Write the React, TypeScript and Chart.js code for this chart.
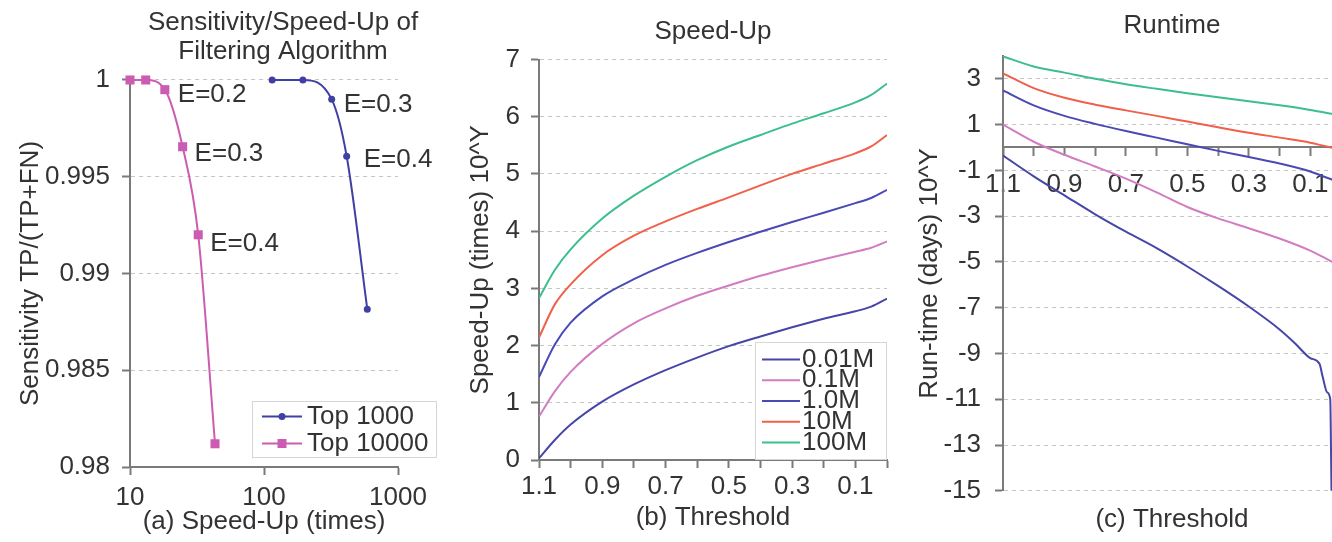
import React, { useEffect, useRef } from 'react';
import { Chart, registerables } from 'chart.js';

Chart.register(...registerables);

// ---------------- (a) Sensitivity / Speed-Up ----------------
const speedTop1000 = [115, 195, 320, 414, 590];
const sensTop1000 = [1.0, 1.0, 0.999, 0.99606, 0.98815];
const speedTop10000 = [10, 13.1, 18.2, 24.7, 32.3, 43.1];
const sensTop10000 = [1.0, 1.0, 0.9995, 0.99655, 0.992, 0.9812];
const speedTicks = [10, 100, 1000];
const sensTicks = [0.98, 0.985, 0.99, 0.995, 1];
const labelsTop1000 = [
  { point: 2, text: 'E=0.3' },
  { point: 3, text: 'E=0.4' },
];
const labelsTop10000 = [
  { point: 2, text: 'E=0.2' },
  { point: 3, text: 'E=0.3' },
  { point: 4, text: 'E=0.4' },
];

// ---------------- (b) Speed-Up ----------------
const thresholdsB = [1.1, 1.05, 1.0, 0.9, 0.8, 0.7, 0.6, 0.5, 0.4, 0.3, 0.2, 0.1, 0.05, 0.0];
const speedup001M = [0.03, 0.35, 0.62, 1.02, 1.32, 1.57, 1.79, 1.99, 2.16, 2.32, 2.47, 2.6, 2.68, 2.82];
const speedup01M = [0.76, 1.2, 1.54, 2.03, 2.39, 2.65, 2.87, 3.05, 3.22, 3.37, 3.51, 3.64, 3.71, 3.82];
const speedup1M = [1.45, 2.02, 2.4, 2.86, 3.16, 3.41, 3.62, 3.81, 3.99, 4.16, 4.32, 4.49, 4.58, 4.72];
const speedup10M = [2.14, 2.72, 3.07, 3.58, 3.92, 4.17, 4.39, 4.59, 4.8, 5.0, 5.18, 5.36, 5.48, 5.68];
const speedup100M = [2.83, 3.32, 3.68, 4.22, 4.62, 4.95, 5.24, 5.48, 5.68, 5.88, 6.06, 6.25, 6.38, 6.58];
const seriesNames = ['0.01M', '0.1M', '1.0M', '10M', '100M'];
const thresholdTicks = [1.1, 1.0, 0.9, 0.8, 0.7, 0.6, 0.5, 0.4, 0.3, 0.2, 0.1, 0.0];
const speedupTicks = [0, 1, 2, 3, 4, 5, 6, 7];

// ---------------- (c) Runtime ----------------
const thresholdsC = [1.1, 1.0, 0.9, 0.8, 0.7, 0.6, 0.5, 0.4, 0.3, 0.2, 0.1, 0.05, 0.0];
const runtime100M = [3.98, 3.54, 3.27, 3.0, 2.76, 2.56, 2.37, 2.19, 2.02, 1.84, 1.64, 1.52, 1.4];
const runtime10M = [3.24, 2.59, 2.17, 1.87, 1.62, 1.38, 1.13, 0.88, 0.64, 0.43, 0.21, 0.05, -0.1];
const runtime1M = [2.49, 1.84, 1.38, 1.03, 0.72, 0.43, 0.14, -0.15, -0.42, -0.7, -1.05, -1.3, -1.55];
const runtime01M = [1.0, 0.25, -0.32, -0.83, -1.36, -1.96, -2.6, -3.1, -3.53, -3.98, -4.51, -4.85, -5.2];
const thresholdsC001M = [1.1, 1.0, 0.9, 0.8, 0.7, 0.6, 0.5, 0.4, 0.3, 0.2, 0.15, 0.1, 0.07, 0.06, 0.045, 0.035, 0.03, 0.0];
const runtime001M = [-0.35, -1.26, -2.09, -2.92, -3.68, -4.4, -5.2, -6.05, -6.95, -7.95, -8.55, -9.2, -9.45, -10.0, -10.7, -11.0, -15.5, -17];
const runtimeTicks = [3, 1, -1, -3, -5, -7, -9, -11, -13, -15];

// ---------------- styles ----------------
const FONT = "'Liberation Sans', Arial, Helvetica, sans-serif";
const TEXT = '#333333';
const AXIS = '#7a7a7a';
const GRID = '#c6c6c6';
const BLUE_A = '#4040a4';
const PINK_A = '#cc5cb2';
const SERIES_COLORS = ['#4646a8', '#d27cc2', '#4a4ab6', '#f0604a', '#3cbf8c'];
const H = 542;

Chart.defaults.font.family = FONT;
Chart.defaults.font.size = 26;
Chart.defaults.color = TEXT;

const pts = (xs: number[], ys: number[]) => xs.map((x, i) => ({ x, y: ys[i] }));

function fixedTicks(values: number[]) {
  return (s: any) => {
    s.ticks = values.map((v) => ({ value: v }));
  };
}

const yGrid = { color: GRID, lineWidth: 1, tickColor: AXIS, tickWidth: 2, tickLength: 8, tickBorderDash: [] };
const xGrid = { drawOnChartArea: false, tickColor: AXIS, tickWidth: 2, tickLength: 8 };
const dashedBorder = { color: AXIS, width: 2, dash: [4, 4] };
const solidBorder = { color: AXIS, width: 2 };

type Entry = { label: string; color: string; marker?: 'circle' | 'rect' };
type Box = { anchor: 'left' | 'right'; x: number; y: number; w: number; h: number; row0: number; rowGap: number; line0: number; line1: number; text: number };

function boxLegend(entries: Entry[], box: Box) {
  return {
    id: 'boxLegend',
    afterDraw(chart: any) {
      const { ctx, chartArea: ca } = chart;
      const left = box.anchor === 'right' ? ca.right + box.x : ca.left + box.x;
      const top = ca.bottom + box.y;
      ctx.save();
      ctx.fillStyle = '#ffffff';
      ctx.fillRect(left, top, box.w, box.h);
      ctx.strokeStyle = '#d6d6d6';
      ctx.lineWidth = 1;
      ctx.strokeRect(left + 0.5, top + 0.5, box.w - 1, box.h - 1);
      ctx.font = `26px ${FONT}`;
      ctx.textBaseline = 'middle';
      ctx.textAlign = 'left';
      entries.forEach((e, i) => {
        const y = top + box.row0 + i * box.rowGap;
        ctx.strokeStyle = e.color;
        ctx.lineWidth = 2;
        ctx.beginPath();
        ctx.moveTo(left + box.line0, y);
        ctx.lineTo(left + box.line1, y);
        ctx.stroke();
        const mx = left + (box.line0 + box.line1) / 2;
        ctx.fillStyle = e.color;
        if (e.marker === 'circle') {
          ctx.beginPath();
          ctx.arc(mx, y, 3.5, 0, Math.PI * 2);
          ctx.fill();
        } else if (e.marker === 'rect') {
          ctx.fillRect(mx - 4.5, y - 4.5, 9, 9);
        }
        ctx.fillStyle = TEXT;
        ctx.fillText(e.label, left + box.text, y);
      });
      ctx.restore();
    },
  };
}

const labelOffsetsTop1000 = [[12, 5], [17, 4]];
const labelOffsetsTop10000 = [[13, 5], [12, 7.5], [12, 9]];

const pointLabels = {
  id: 'pointLabels',
  afterDatasetsDraw(chart: any) {
    const { ctx } = chart;
    ctx.save();
    ctx.font = `26px ${FONT}`;
    ctx.fillStyle = TEXT;
    ctx.textBaseline = 'middle';
    ctx.textAlign = 'left';
    const groups = [
      { ds: 0, labels: labelsTop1000, offs: labelOffsetsTop1000 },
      { ds: 1, labels: labelsTop10000, offs: labelOffsetsTop10000 },
    ];
    groups.forEach((g) => {
      const meta = chart.getDatasetMeta(g.ds);
      g.labels.forEach((l, k) => {
        const el = meta.data[l.point];
        if (el) ctx.fillText(l.text, el.x + g.offs[k][0], el.y + g.offs[k][1]);
      });
    });
    ctx.restore();
  },
};

function configA(): any {
  return {
    type: 'line',
    data: {
      datasets: [
        {
          label: 'Top 1000',
          data: pts(speedTop1000, sensTop1000),
          borderColor: BLUE_A,
          backgroundColor: BLUE_A,
          borderWidth: 2,
          pointStyle: 'circle',
          pointRadius: 3.5,
          pointBorderWidth: 0,
          cubicInterpolationMode: 'monotone',
          clip: false,
          xAxisID: 'x',
          yAxisID: 'y',
        },
        {
          label: 'Top 10000',
          data: pts(speedTop10000, sensTop10000),
          borderColor: PINK_A,
          backgroundColor: PINK_A,
          borderWidth: 2,
          pointStyle: 'rect',
          pointRadius: 6.4,
          pointBorderWidth: 0,
          cubicInterpolationMode: 'monotone',
          clip: false,
          xAxisID: 'x',
          yAxisID: 'y',
        },
      ],
    },
    options: {
      responsive: false,
      animation: false,
      layout: { padding: 0 },
      plugins: {
        legend: { display: false },
        tooltip: { enabled: false },
        title: {
          display: true,
          text: ['Sensitivity/Speed-Up of', 'Filtering Algorithm'],
          font: { size: 26, weight: 'normal', lineHeight: 1.115 },
          color: TEXT,
          padding: { top: 8, bottom: 14 },
        },
      },
      scales: {
        x: {
          type: 'logarithmic',
          min: 10,
          max: 1000,
          afterBuildTicks: fixedTicks(speedTicks),
          ticks: { callback: (v: any) => String(v), padding: 7.4, autoSkip: false, maxRotation: 0, minRotation: 0 },
          grid: xGrid,
          border: solidBorder,
          title: { display: true, text: '(a) Speed-Up (times)', padding: { top: 0, bottom: 4.4 } },
          afterFit: (s: any) => { s.height = 75; },
        },
        y: {
          min: 0.98,
          max: 1,
          afterBuildTicks: fixedTicks(sensTicks),
          ticks: { callback: (v: any) => String(parseFloat(Number(v).toFixed(3))), padding: 12, autoSkip: false },
          grid: yGrid,
          border: dashedBorder,
          title: { display: true, text: 'Sensitivity TP/(TP+FN)', padding: { top: 15, bottom: 0 } },
          afterFit: (s: any) => { s.width = 130; },
        },
        yr: {
          type: 'linear',
          position: 'right',
          ticks: { display: false },
          grid: { display: false },
          border: { display: false },
          afterFit: (s: any) => { s.width = 168; },
        },
      },
    },
    plugins: [
      pointLabels,
      boxLegend(
        [
          { label: 'Top 1000', color: BLUE_A, marker: 'circle' },
          { label: 'Top 10000', color: PINK_A, marker: 'rect' },
        ],
        { anchor: 'left', x: 122, y: -66, w: 185, h: 57, row0: 15.5, rowGap: 27, line0: 10, line1: 50, text: 55 }
      ),
    ],
  };
}

const thresholdLabel = (v: any) => {
  const t = Math.round(Number(v) * 10);
  return t % 2 === 1 ? (t / 10).toFixed(1) : '';
};

function lineDataset(label: string, xs: number[], ys: number[], color: string) {
  return {
    label,
    data: pts(xs, ys),
    borderColor: color,
    backgroundColor: color,
    borderWidth: 2,
    pointRadius: 0,
    cubicInterpolationMode: 'monotone',
    xAxisID: 'x',
    yAxisID: 'y',
  };
}

function configB(): any {
  const ys = [speedup001M, speedup01M, speedup1M, speedup10M, speedup100M];
  return {
    type: 'line',
    data: {
      datasets: ys.map((arr, i) => lineDataset(seriesNames[i], thresholdsB, arr, SERIES_COLORS[i])),
    },
    options: {
      responsive: false,
      animation: false,
      layout: { padding: { left: 0, right: 13, top: 0, bottom: 0 } },
      plugins: {
        legend: { display: false },
        tooltip: { enabled: false },
        title: {
          display: true,
          fullSize: false,
          text: 'Speed-Up',
          font: { size: 26, weight: 'normal' },
          color: TEXT,
          padding: { top: 16.2, bottom: 12.1 },
        },
      },
      scales: {
        x: {
          type: 'linear',
          reverse: true,
          min: 0,
          max: 1.1,
          afterBuildTicks: fixedTicks(thresholdTicks),
          ticks: { callback: thresholdLabel, padding: 3.4, autoSkip: false, maxRotation: 0, minRotation: 0 },
          grid: xGrid,
          border: solidBorder,
          title: { display: true, text: '(b) Threshold', padding: { top: 0, bottom: 8.4 } },
          afterFit: (s: any) => { s.height = 82; },
        },
        y: {
          min: 0,
          max: 7,
          afterBuildTicks: fixedTicks(speedupTicks),
          ticks: { padding: 11, autoSkip: false },
          grid: yGrid,
          border: dashedBorder,
          title: { display: true, text: 'Speed-Up (times) 10^Y', padding: { top: 25, bottom: 0 } },
          afterFit: (s: any) => { s.width = 99; },
        },
      },
    },
    plugins: [
      boxLegend(
        seriesNames.map((n, i) => ({ label: n, color: SERIES_COLORS[i] })),
        { anchor: 'right', x: -132, y: -118, w: 132, h: 118, row0: 17.5, rowGap: 20.75, line0: 7, line1: 45, text: 47 }
      ),
    ],
  };
}

function configC(): any {
  const sets = [
    lineDataset(seriesNames[0], thresholdsC001M, runtime001M, SERIES_COLORS[0]),
    lineDataset(seriesNames[1], thresholdsC, runtime01M, SERIES_COLORS[1]),
    lineDataset(seriesNames[2], thresholdsC, runtime1M, SERIES_COLORS[2]),
    lineDataset(seriesNames[3], thresholdsC, runtime10M, SERIES_COLORS[3]),
    lineDataset(seriesNames[4], thresholdsC, runtime100M, SERIES_COLORS[4]),
  ];
  return {
    type: 'line',
    data: { datasets: sets },
    options: {
      responsive: false,
      animation: false,
      layout: { padding: { left: 0, right: 19, top: 0, bottom: 0 } },
      plugins: {
        legend: { display: false },
        tooltip: { enabled: false },
        title: {
          display: true,
          fullSize: false,
          text: 'Runtime',
          font: { size: 26, weight: 'normal' },
          color: TEXT,
          padding: { top: 10.4, bottom: 14.3 },
        },
        subtitle: {
          display: true,
          position: 'bottom',
          fullSize: false,
          text: '(c) Threshold',
          font: { size: 26, weight: 'normal' },
          color: TEXT,
          padding: { top: 13.6, bottom: 6.4 },
        },
      },
      scales: {
        x: {
          type: 'linear',
          reverse: true,
          min: 0,
          max: 1.1,
          position: { y: 0 },
          afterBuildTicks: fixedTicks(thresholdTicks),
          ticks: { callback: thresholdLabel, padding: 14, autoSkip: false, maxRotation: 0, minRotation: 0 },
          grid: xGrid,
          border: solidBorder,
        },
        y: {
          min: -15,
          max: 4,
          afterBuildTicks: fixedTicks(runtimeTicks),
          ticks: { callback: (v: any) => String(v), padding: 14, autoSkip: false },
          grid: yGrid,
          border: dashedBorder,
          title: { display: true, text: 'Run-time (days) 10^Y', padding: { top: 34.4, bottom: 0 } },
          afterFit: (s: any) => { s.width = 123; },
        },
      },
    },
  };
}

function ChartCanvas({ left, width, make }: { left: number; width: number; make: () => any }) {
  const ref = useRef<HTMLCanvasElement | null>(null);
  useEffect(() => {
    if (!ref.current) return;
    const chart = new Chart(ref.current, make());
    return () => chart.destroy();
  }, []);
  return (
    <canvas
      ref={ref}
      width={width}
      height={H}
      style={{ position: 'absolute', left, top: 0, width, height: H }}
    />
  );
}

export default function App() {
  return (
    <div
      style={{
        position: 'fixed',
        left: 0,
        top: 0,
        width: 1332,
        height: H,
        overflow: 'hidden',
        background: '#ffffff',
      }}
    >
      <ChartCanvas left={0} width={566} make={configA} />
      <ChartCanvas left={440} width={460} make={configB} />
      <ChartCanvas left={880} width={480} make={configC} />
    </div>
  );
}
